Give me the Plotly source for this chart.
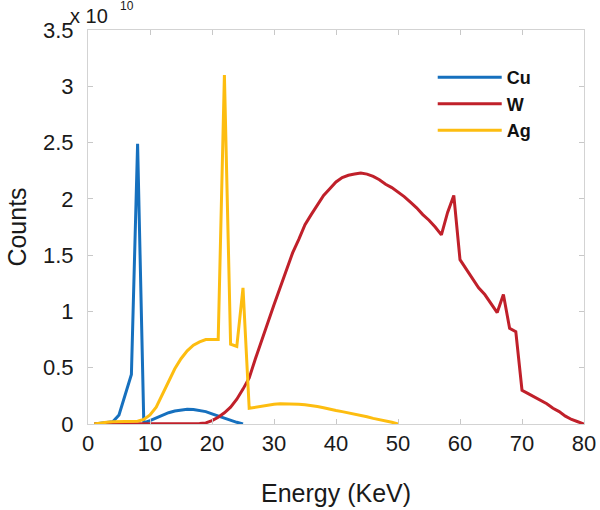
import plotly.graph_objects as go

# Energy bins (keV)
cu_energy = list(range(1, 26))
cu_counts = [0.0, 0.005, 0.01, 0.02, 0.08, 0.26, 0.44, 2.49, 0.01, 0.03,
             0.055, 0.08, 0.10, 0.115, 0.125, 0.13, 0.128, 0.12, 0.11, 0.09,
             0.07, 0.05, 0.03, 0.015, 0.0]

w_energy = list(range(1, 81))
w_counts = [0.0] * 10 + [0.003, 0.004, 0.005, 0.005, 0.005, 0.005, 0.005, 0.005,
            0.01, 0.03, 0.06, 0.10, 0.15, 0.22, 0.31, 0.41, 0.58, 0.75, 0.90, 1.06,
            1.22, 1.37, 1.52, 1.64, 1.77, 1.86, 1.95, 2.03, 2.09, 2.15,
            2.19, 2.21, 2.22, 2.23, 2.22, 2.20, 2.17, 2.13, 2.10, 2.06,
            2.02, 1.97, 1.92, 1.86, 1.81, 1.75, 1.68, 1.88, 2.03, 1.46,
            1.38, 1.29, 1.21, 1.15, 1.07, 0.99, 1.15, 0.85, 0.82, 0.30,
            0.27, 0.24, 0.21, 0.18, 0.14, 0.11, 0.07, 0.04, 0.02, 0.0]

ag_energy = list(range(1, 51))
ag_counts = [0.0, 0.01, 0.015, 0.02, 0.02, 0.02, 0.02, 0.025, 0.04, 0.08,
             0.15, 0.26, 0.38, 0.49, 0.58, 0.65, 0.70, 0.73, 0.75, 0.75,
             0.75, 3.10, 0.71, 0.69, 1.21, 0.14, 0.15, 0.16, 0.17, 0.175,
             0.18, 0.18, 0.18, 0.175, 0.17, 0.165, 0.155, 0.145, 0.13, 0.12,
             0.11, 0.10, 0.09, 0.08, 0.065, 0.05, 0.04, 0.03, 0.015, 0.0]

x_ticks = [0, 10, 20, 30, 40, 50, 60, 70, 80]
y_ticks = [0, 0.5, 1, 1.5, 2, 2.5, 3, 3.5]
y_tick_labels = ["0", "0.5", "1", "1.5", "2", "2.5", "3", "3.5"]

FONT = "Liberation Sans, Arial, Helvetica, sans-serif"
TXT = "#1a1a1a"

fig = go.Figure()
fig.add_trace(go.Scatter(x=cu_energy, y=cu_counts, mode="lines", name="Cu",
                         line=dict(color="#1670BE", width=3)))
fig.add_trace(go.Scatter(x=w_energy, y=w_counts, mode="lines", name="W",
                         line=dict(color="#C0202A", width=3)))
fig.add_trace(go.Scatter(x=ag_energy, y=ag_counts, mode="lines", name="Ag",
                         line=dict(color="#FDBD10", width=3)))

axis_common = dict(showgrid=False, zeroline=False, showline=True,
                   linecolor="#D3D3D3", linewidth=1, mirror="ticks",
                   ticks="inside", ticklen=5, tickcolor="#C8C8C8",
                   automargin=False,
                   tickfont=dict(family=FONT, size=22, color=TXT))

fig.update_xaxes(range=[0, 80], tickvals=x_ticks,
                 title=dict(text="Energy (KeV)", font=dict(family=FONT, size=25, color=TXT),
                            standoff=29),
                 **axis_common)
fig.update_yaxes(range=[0, 3.5], tickvals=y_ticks, ticktext=y_tick_labels,
                 title=dict(text="Counts", font=dict(family=FONT, size=25, color=TXT),
                            standoff=9),
                 ticklabelstandoff=9,
                 **axis_common)

# axis multiplier "x 10^10"
fig.add_annotation(xref="paper", yref="paper", x=-0.0403, y=1.0355,
                   xanchor="left", yanchor="middle", showarrow=False,
                   text="x 10", font=dict(family=FONT, size=20, color=TXT))
fig.add_annotation(xref="paper", yref="paper", x=0.0605, y=1.061,
                   xanchor="left", yanchor="middle", showarrow=False,
                   text="10", font=dict(family=FONT, size=12, color=TXT))

fig.update_layout(
    width=600, height=510,
    margin=dict(l=88, r=16, t=30, b=86),
    paper_bgcolor="white", plot_bgcolor="white",
    showlegend=True,
    legend=dict(x=0.695, y=0.926, xanchor="left", yanchor="top",
                bgcolor="rgba(0,0,0,0)", itemwidth=64,
                font=dict(family=FONT, size=18, color="#111111", weight="bold"),
                tracegroupgap=0),
)

fig.write_html("out.html", config={"displayModeBar": False},
               post_script="document.body.style.margin='0';")
